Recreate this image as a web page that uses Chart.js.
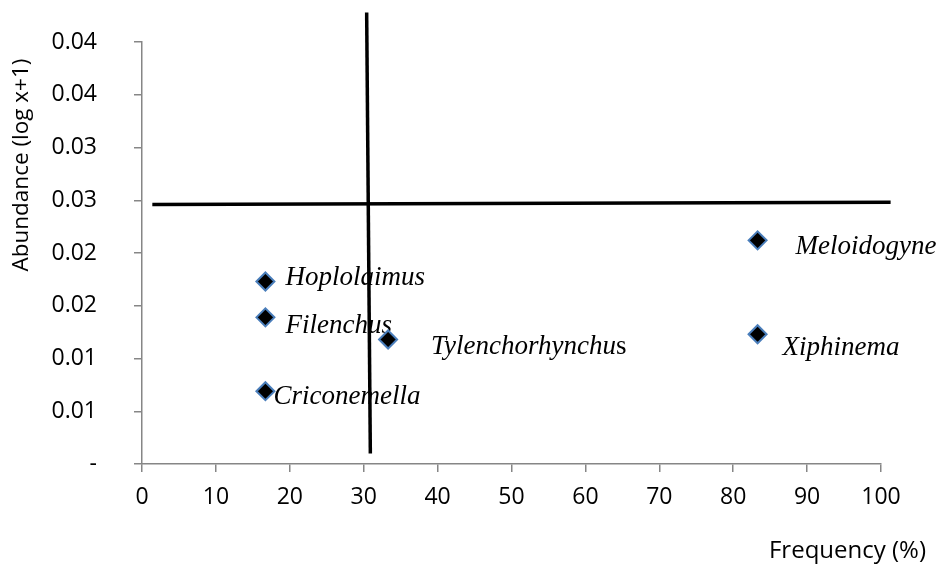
<!DOCTYPE html>
<html>
<head>
<meta charset="utf-8">
<script src="https://cdn.jsdelivr.net/npm/chart.js@4.4.0/dist/chart.umd.min.js"></script>
<style>
  html, body { margin: 0; padding: 0; background: #fff; }
  #wrap { width: 937px; height: 566px; position: relative; }
</style>
</head>
<body>
<div id="wrap"><canvas id="lienzo"></canvas></div>
<script>
// nematode genera, frequency (%) and abundance (log x+1)
const genera = ['Meloidogyne', 'Hoplolaimus', 'Filenchus', 'Tylenchorhynchus', 'Xiphinema', 'Criconemella']
const frecuencia = [83.3, 16.7, 16.7, 33.3, 83.3, 16.7]
const abundancia = [0.0212, 0.0173, 0.0139, 0.0118, 0.0123, 0.0069]

// the two hand drawn quadrant lines
const lineaH_x = [1.4, 101.3]
const lineaH_y = [0.0246, 0.0248]
const lineaV_x = [30.4, 30.9]
const lineaV_y = [0.0428, 0.0010]

const xTicks = [0, 10, 20, 30, 40, 50, 60, 70, 80, 90, 100]
const yTicks = [0, 0.005, 0.01, 0.015, 0.02, 0.025, 0.03, 0.035, 0.04]
const yTickLabels = ['-', '0.01', '0.01', '0.02', '0.02', '0.03', '0.03', '0.04', '0.04']

const tituloX = 'Frequency (%)'
const tituloY = 'Abundance (log x+1)'

// where each name sits relative to its marker: left edge and baseline
const desplazamiento = {
    'Meloidogyne': [38, 14],
    'Hoplolaimus': [20, 4],
    'Filenchus': [20, 16],
    'Tylenchorhynchus': [43, 14],
    'Xiphinema': [25, 21],
    'Criconemella': [8, 13]
}

const fuente = '"Open Sans", "Liberation Sans", sans-serif'
const serif = '"Liberation Serif", "DejaVu Serif", serif'
const gris = '#868686'

const puntos = frecuencia.map((f, i) => ({ x: f, y: abundancia[i] }))
const lineaH = lineaH_x.map((x, i) => ({ x: x, y: lineaH_y[i] }))
const lineaV = lineaV_x.map((x, i) => ({ x: x, y: lineaV_y[i] }))

const etiquetas = {
    id: 'etiquetas',
    beforeDatasetsDraw(chart) {
        const ctx = chart.ctx
        const meta = chart.getDatasetMeta(2)
        ctx.save()
        ctx.fillStyle = '#000'
        ctx.textBaseline = 'alphabetic'
        ctx.textAlign = 'left'
        meta.data.forEach((p, i) => {
            const nombre = genera[i]
            const d = desplazamiento[nombre]
            const x = p.x + d[0]
            const y = p.y + d[1]
            ctx.font = 'italic 27px ' + serif
            if (nombre === 'Tylenchorhynchus') {
                // last letter is upright in the original
                const cuerpo = nombre.slice(0, -1)
                ctx.fillText(cuerpo, x, y)
                const w = ctx.measureText(cuerpo).width
                ctx.font = '27px ' + serif
                ctx.fillText('s', x + w, y)
            } else {
                ctx.fillText(nombre, x, y)
            }
        })
        ctx.restore()
    },
    afterDraw(chart) {
        const ctx = chart.ctx
        ctx.save()
        ctx.fillStyle = '#000'
        ctx.font = '24px ' + fuente
        ctx.textAlign = 'right'
        ctx.textBaseline = 'alphabetic'
        ctx.fillText(tituloX, 926, 558)
        ctx.font = '22.5px ' + fuente
        ctx.translate(22, 165)
        ctx.rotate(-Math.PI / 2)
        ctx.textAlign = 'center'
        ctx.textBaseline = 'middle'
        ctx.fillText(tituloY, 0, 0)
        ctx.restore()
    }
}

new Chart(document.getElementById('lienzo'), {
    type: 'scatter',
    data: {
        datasets: [
            {
                data: lineaH,
                showLine: true,
                borderColor: '#000',
                borderWidth: 3.5,
                pointRadius: 0,
                clip: false
            },
            {
                data: lineaV,
                showLine: true,
                borderColor: '#000',
                borderWidth: 3.5,
                pointRadius: 0,
                clip: false
            },
            {
                data: puntos,
                pointStyle: 'rectRot',
                pointRadius: 9,
                pointBackgroundColor: '#000',
                pointBorderColor: '#4a7ebb',
                pointBorderWidth: 2,
                clip: false
            }
        ]
    },
    options: {
        responsive: true,
        maintainAspectRatio: false,
        animation: false,
        events: [],
        layout: { padding: { left: 0, top: 42, right: 56, bottom: 0 } },
        plugins: {
            legend: { display: false },
            tooltip: { enabled: false },
            title: { display: false }
        },
        scales: {
            x: {
                type: 'linear',
                min: 0,
                max: 100,
                afterBuildTicks: (s) => { s.ticks = xTicks.map(v => ({ value: v })) },
                afterFit: (s) => { s.height = 102 },
                grid: { drawOnChartArea: false, drawTicks: true, tickLength: 8, color: gris, lineWidth: 1.5 },
                border: { color: gris, width: 1.5 },
                ticks: { color: '#000', padding: 12, maxRotation: 0, font: { family: fuente, size: 23 } }
            },
            y: {
                type: 'linear',
                min: 0,
                max: 0.04,
                afterBuildTicks: (s) => { s.ticks = yTicks.map(v => ({ value: v })) },
                afterFit: (s) => {
                    s.width = 142
                    // the big label padding should not push the plot down
                    s.paddingTop = 0
                    s.paddingBottom = 0
                },
                grid: { drawOnChartArea: false, drawTicks: true, tickLength: 8, color: gris, lineWidth: 1.5 },
                border: { color: gris, width: 1.5 },
                ticks: {
                    color: '#000',
                    padding: 37,
                    font: { family: fuente, size: 23 },
                    callback: (v, i) => yTickLabels[i]
                }
            }
        }
    },
    plugins: [etiquetas]
})
</script>
</body>
</html>
